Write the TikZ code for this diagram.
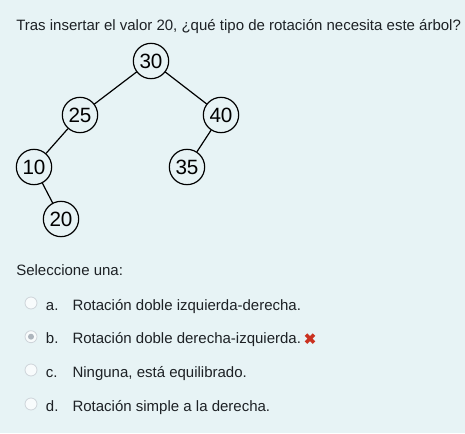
\documentclass[tikz,border=0pt]{standalone}
\usepackage{fontspec}
\setmainfont{Liberation Sans}
\usetikzlibrary{positioning}
\definecolor{fondo}{HTML}{E7F3F5}
\definecolor{tinta}{HTML}{1D2125}
\definecolor{borde}{HTML}{CED4DA}
\definecolor{marcado}{HTML}{ADB5BD}
\definecolor{error}{HTML}{CA3120}

\begin{document}
\begin{tikzpicture}[x=0.75pt,y=-0.75pt,line cap=round,line join=round,
    nodo/.style={circle,draw=black,line width=0.9pt,minimum size=26.5pt,inner sep=0pt,font=\fontsize{15.5}{15.5}\selectfont},
    texto/.style={anchor=base west,inner sep=0pt,text=tinta,font=\fontsize{11.25}{13}\selectfont},
    radio/.style={circle,draw=borde,fill=white!70!fondo,line width=0.6pt,minimum size=9pt,inner sep=0pt}]
    \fill[fondo] (0,0) rectangle (465,433);
    \useasboundingbox (0,0) rectangle (465,433);
    \node[texto] (titulo) at (16,30) {Tras insertar el valor 20, ¿qué tipo de rotación necesita este árbol?};
    % arbol
    \node[nodo] (n30) at (151,61) {30};
    \node[nodo] (n25) at (80,115) {25};
    \node[nodo] (n40) at (221,115) {40};
    \node[nodo] (n10) at (34,167) {10};
    \node[nodo] (n35) at (187,167) {35};
    \node[nodo] (n20) at (61,219) {20};
    \foreach \a/\b in {n30/n25,n30/n40,n25/n10,n40/n35,n10/n20}
    \draw[line width=0.9pt] (\a) -- (\b);
    % opciones
    \node[texto] (pedido) at (16,275.5) {Seleccione una:};
    \foreach \l/\t/\y in {a/{Rotación doble izquierda-derecha.}/310,
        b/{Rotación doble derecha-izquierda.}/343.7,
        c/{Ninguna, está equilibrado.}/377,
        d/{Rotación simple a la derecha.}/411}
    {
      \node[radio] (radio\l) at (31,\y-7) {};
      \node[texto] (letra\l) at (45.7,\y) {\l.};
      \node[texto] (opcion\l) at (72.3,\y) {\t};
    }
    \node[circle,fill=marcado,minimum size=4.5pt,inner sep=0pt] (punto) at (radiob) {};
    \coordinate[right=6.5pt of opcionb.base east,yshift=3.8pt] (cruz);
    \draw[error,line width=2.7pt,line cap=butt,shift={(cruz)}] (-4,-4) -- (4,4) (-4,4) -- (4,-4);
\end{tikzpicture}
\end{document}
